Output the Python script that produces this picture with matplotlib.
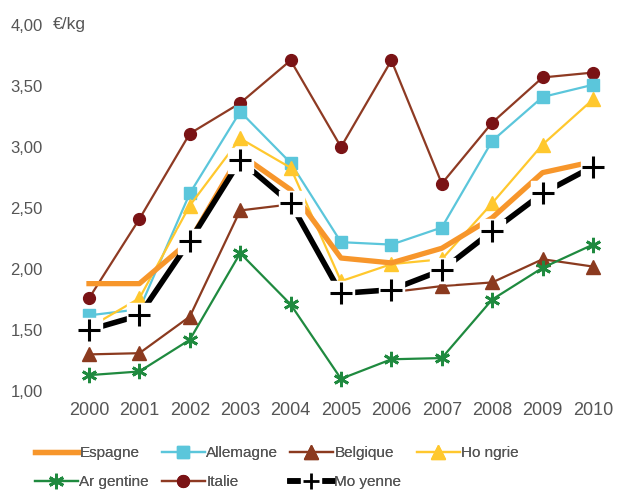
import matplotlib
matplotlib.use("Agg")
import matplotlib.pyplot as plt
from matplotlib.lines import Line2D
from matplotlib.legend_handler import HandlerTuple

years = [2000, 2001, 2002, 2003, 2004, 2005, 2006, 2007, 2008, 2009, 2010]
espagne   = [1.88, 1.88, 2.23, 2.94, 2.65, 2.09, 2.05, 2.17, 2.42, 2.79, 2.88]
allemagne = [1.62, 1.67, 2.62, 3.29, 2.87, 2.22, 2.20, 2.34, 3.05, 3.41, 3.51]
belgique  = [1.30, 1.31, 1.61, 2.48, 2.53, 1.82, 1.81, 1.86, 1.89, 2.08, 2.02]
hongrie   = [1.52, 1.76, 2.52, 3.07, 2.83, 1.90, 2.04, 2.08, 2.54, 3.02, 3.39]
argentine = [1.13, 1.16, 1.42, 2.13, 1.71, 1.10, 1.26, 1.27, 1.75, 2.01, 2.20]
italie    = [1.76, 2.41, 3.11, 3.36, 3.71, 3.00, 3.71, 2.70, 3.20, 3.57, 3.61]
moyenne   = [1.50, 1.62, 2.23, 2.89, 2.54, 1.80, 1.83, 1.99, 2.31, 2.62, 2.84]

yticks = [1.0, 1.5, 2.0, 2.5, 3.0, 3.5, 4.0]
ytick_labels = ["1,00", "1,50", "2,00", "2,50", "3,00", "3,50", "4,00"]
unit_label = "€/kg"

plt.rcParams['font.family'] = ['Liberation Sans', 'DejaVu Sans']

W, H = 621, 491
fig = plt.figure(figsize=(W/100, H/100), dpi=100)
ax = fig.add_axes([63.8/W, (H-391)/H, 554.4/W, 366/H])
ax.set_xlim(1999.5, 2010.5)
ax.set_ylim(1.0, 4.0)
for s in ax.spines.values():
    s.set_visible(False)

gray = '#555555'
ax.set_yticks(yticks)
ax.set_yticklabels(ytick_labels)
ax.set_xticks(years)
ax.set_xticklabels([str(y) for y in years])
ax.tick_params(axis='y', length=0, pad=15, labelsize=12, labelcolor=gray)
ax.tick_params(axis='x', length=0, pad=8, labelsize=13, labelcolor=gray)

c_esp = '#F7962B'
c_all = '#5BC6DB'
c_bel = '#8B3A1F'
c_hon = '#FFC82E'
c_arg = '#1F8A3F'
c_ita_line = '#8E3A23'
c_ita_mk = '#7A1315'

l_ita, = ax.plot(years, italie, color=c_ita_line, lw=1.6, marker='o', ms=8.5,
                 mfc=c_ita_mk, mec=c_ita_mk, zorder=3)
l_all, = ax.plot(years, allemagne, color=c_all, lw=1.6, marker='s', ms=8,
                 mfc=c_all, mec=c_all, zorder=3)
l_hon, = ax.plot(years, hongrie, color=c_hon, lw=1.6, marker='^', ms=10.5,
                 mfc=c_hon, mec=c_hon, zorder=3)
l_esp, = ax.plot(years, espagne, color=c_esp, lw=3.8, zorder=3)
l_bel, = ax.plot(years, belgique, color=c_bel, lw=1.6, marker='^', ms=10.5,
                 mfc=c_bel, mec=c_bel, zorder=3)
l_arg, = ax.plot(years, argentine, color=c_arg, lw=1.6, marker=(6, 2, 0), ms=11,
                 mew=2, mec=c_arg, zorder=3)

ax.plot(years, moyenne, color='black', lw=4, zorder=4)
ax.plot(years, moyenne, ls='none', marker='s', ms=18, mfc='white',
        mec='white', zorder=5)
ax.plot(years, moyenne, ls='none', marker='+', ms=16, mew=2.2,
        color='black', zorder=6)

fig.text(53/W, 1-25/H, unit_label, fontsize=12.5, color=gray, va='center', ha='left')

h_moy = Line2D([], [], color='black', lw=4)
h_moyw = Line2D([], [], ls='none', marker='s', ms=15, mfc='white', mec='white')
h_moyp = Line2D([], [], ls='none', marker='+', ms=11, mew=2, color='black')

columns = [
    ([l_esp, l_arg], ['Espagne', 'Ar gentine'], 35),
    ([l_all, l_ita], ['Allemagne', 'Italie'], 162),
    ([l_bel, (h_moy, h_moyw, h_moyp)], ['Belgique', 'Mo yenne'], 290),
    ([l_hon], ['Ho ngrie'], 417),
]
for hs, ls_, xpx in columns:
    leg = fig.legend(hs, ls_, loc='upper left', bbox_to_anchor=(xpx/W, 1-446/H),
                     frameon=False, fontsize=11, borderpad=0, borderaxespad=0,
                     handlelength=2.8, handletextpad=0.1, labelspacing=0.98,
                     labelcolor=gray,
                     handler_map={tuple: HandlerTuple(ndivide=1)})
    fig.add_artist(leg)

fig.savefig('out.png', dpi=100)
